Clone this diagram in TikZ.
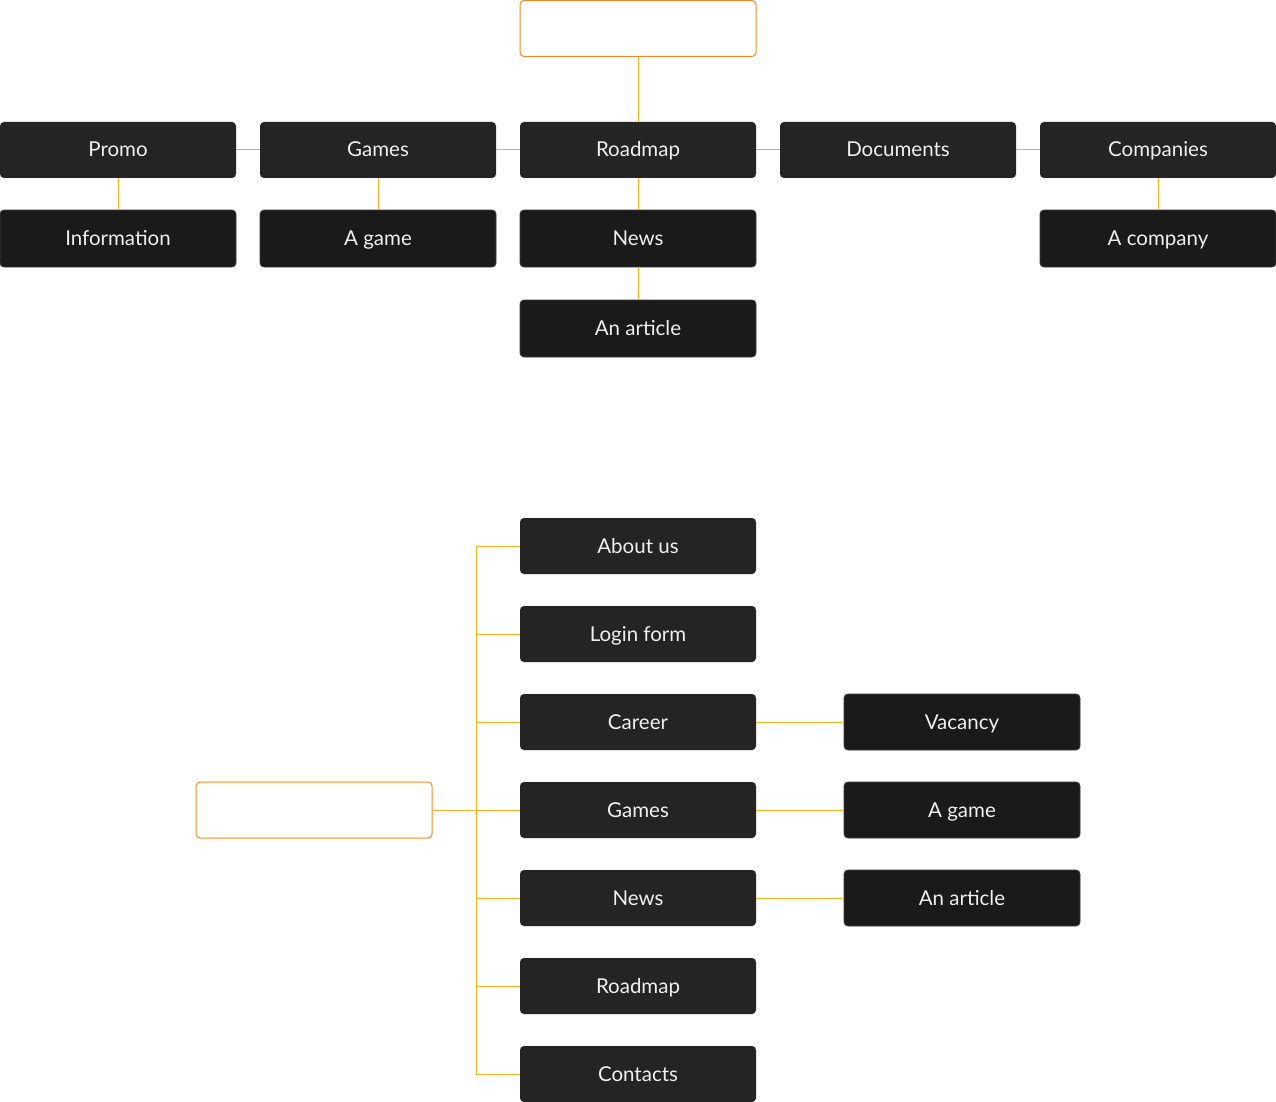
\documentclass[tikz,border=0pt]{standalone}
\usepackage{fontspec}
\setmainfont{Lato}
\usepackage{tikz}
\usetikzlibrary{positioning,calc}
\definecolor{boxdark}{HTML}{242424}
\definecolor{boxdeep}{HTML}{1A1A1A}
\definecolor{boxedge}{HTML}{3A3A3A}
\definecolor{linkline}{HTML}{F0B020}
\definecolor{rootedge}{HTML}{F08A24}

\begin{document}
\begin{tikzpicture}[x=1pt,y=-1pt,
  page/.style={minimum width=236pt, minimum height=56pt, inner sep=0pt, rounded corners=4pt,
    fill=boxdark, text=white!94!black, font=\fontsize{20.5}{24}\selectfont,
    text height=16pt, text depth=2pt},
  subpage/.style={page, fill=boxdeep, draw=boxedge, line width=0.8pt, minimum height=57pt},
  rootbox/.style={minimum width=236pt, minimum height=56pt, inner sep=0pt, rounded corners=4pt,
    draw=rootedge, line width=1pt},
  link/.style={draw=linkline, line width=1pt}]
\useasboundingbox (0,0) rectangle (1276,1102);
\node[rootbox] (top) at (638,28.5){};
\node[page] (promo) at (118,150){Promo};
\node[page] (games) at (378,150){Games};
\node[page] (roadmap) at (638,150){Roadmap};
\node[page] (docs) at (898,150){Documents};
\node[page] (companies) at (1158,150){Companies};
\node[subpage] (info) at (118,238.5){Information};
\node[subpage] (game) at (378,238.5){A game};
\node[subpage] (news) at (638,238.5){News};
\node[subpage] (article) at (638,328.5){An article};
\node[subpage] (company) at (1158,238.5){A company};
\draw[link] (top)--(roadmap);
\draw[link] (promo)--(games);
\draw[link] (games)--(roadmap);
\draw[link] (roadmap)--(docs);
\draw[link] (docs)--(companies);
\draw[link] (promo)--(info);
\draw[link] (games)--(game);
\draw[link] (roadmap)--(news);
\draw[link] (news)--(article);
\draw[link] (companies)--(company);

\node[rootbox] (home) at (314,810){};
\coordinate (bus) at (476,810);
\node[page] (about) at (638,546){About us};
\node[page] (login) at (638,634){Login form};
\node[page] (career) at (638,722){Career};
\node[page] (games2) at (638,810){Games};
\node[page] (news2) at (638,898){News};
\node[page] (roadmap2) at (638,986){Roadmap};
\node[page] (contacts) at (638,1074){Contacts};
\node[subpage, minimum height=56pt] (vacancy) at (962,722){Vacancy};
\node[subpage, minimum height=56pt] (game2) at (962,810){A game};
\node[subpage, minimum height=56pt] (article2) at (962,898){An article};
\draw[link] (home)--(games2);
\foreach \p in {about,login,career,news2,roadmap2,contacts}
  \draw[link] (\p.west) -| (bus);
\draw[link] (career)--(vacancy);
\draw[link] (games2)--(game2);
\draw[link] (news2)--(article2);
\end{tikzpicture}
\end{document}
